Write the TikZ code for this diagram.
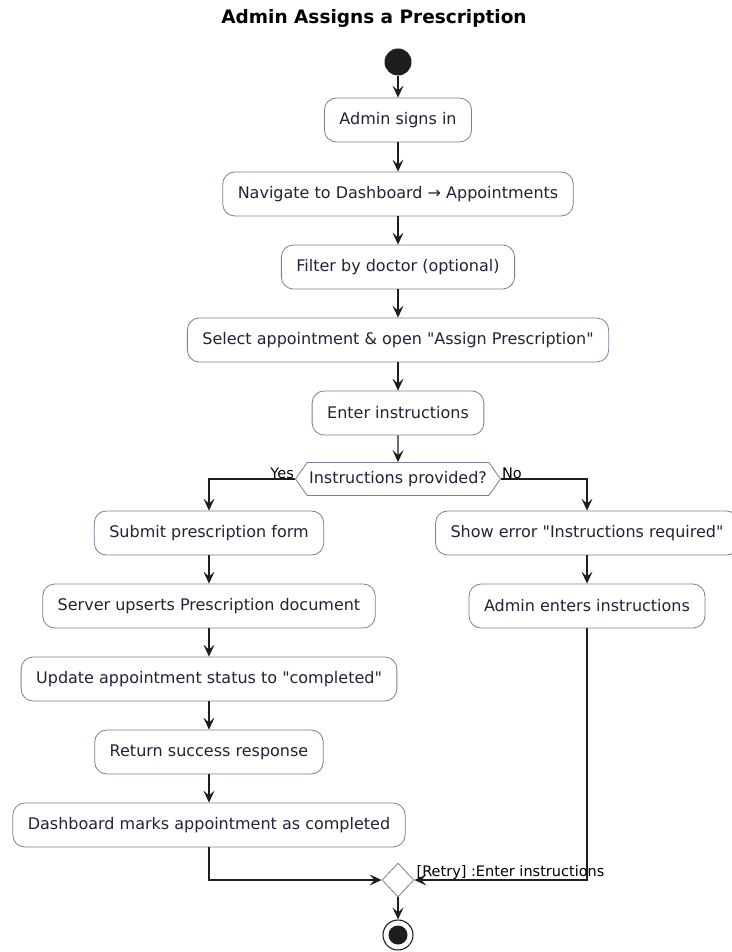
\documentclass[tikz,border=0pt]{standalone}
\usepackage{fontspec}
\setmainfont{DejaVu Sans}[Ligatures=TeXOff]
\usetikzlibrary{arrows.meta,shapes.geometric,shapes.symbols}
\definecolor{boxline}{RGB}{125,125,150}
\definecolor{boxtext}{RGB}{35,35,55}
\definecolor{flow}{RGB}{30,30,30}
\begin{document}
\begin{tikzpicture}[x=1pt,y=-1pt,
  act/.style={draw=boxline,fill=white,rounded corners=12pt,minimum height=44pt,
    inner xsep=15pt,font=\fontsize{16}{19}\selectfont,text=boxtext,line width=0.8pt},
  decide/.style={draw=boxline,fill=white,shape=signal,signal to=west and east,
    signal pointer angle=110,minimum height=33pt,minimum width=197pt,inner xsep=2pt,
    font=\fontsize{16}{19}\selectfont,text=boxtext,line width=0.8pt},
  merge/.style={draw=boxline,fill=white,diamond,minimum width=32pt,minimum height=34pt,
    inner sep=0pt,line width=0.8pt},
  flowline/.style={draw=flow,line width=1.1pt,-{Stealth[length=12pt,width=11pt,inset=5pt]}},
  lbl/.style={font=\fontsize{14.5}{17}\selectfont,text=black,inner sep=1pt}
]
\useasboundingbox (0,0) rectangle (731,952);

% title
\node[font=\bfseries\fontsize{18.5}{21}\selectfont] (title) at (374,18) {Admin Assigns a Prescription};

% start
\node[circle,fill=flow,minimum size=27pt,inner sep=0pt] (start) at (398,62) {};

% main column
\node[act] (signin) at (398,120) {Admin signs in};
\node[act] (nav) at (398,194) {Navigate to Dashboard → Appointments};
\node[act] (filter) at (398,267) {Filter by doctor (optional)};
\node[act] (select) at (398,340) {Select appointment \& open "Assign Prescription"};
\node[act] (enter) at (398,413) {Enter instructions};
\node[decide] (dec) at (398,479) {Instructions provided?};

% yes branch
\node[act] (submit) at (209,533) {Submit prescription form};
\node[act] (upsert) at (209,606) {Server upserts Prescription document};
\node[act] (status) at (209,679) {Update appointment status to "completed"};
\node[act] (resp) at (209,752) {Return success response};
\node[act] (marks) at (209,825) {Dashboard marks appointment as completed};

% no branch
\node[act] (err) at (587,533) {Show error "Instructions required"};
\node[act] (again) at (587,606) {Admin enters instructions};

% merge and end
\node[merge] (mrg) at (398,880) {};
\node[circle,draw=flow,line width=1.1pt,fill=white,minimum size=30pt,inner sep=0pt] (stop) at (398,935) {};
\node[circle,fill=flow,minimum size=19pt,inner sep=0pt] (stopdot) at (stop) {};

% connectors
\draw[flowline] (start) -- (signin);
\draw[flowline] (signin) -- (nav);
\draw[flowline] (nav) -- (filter);
\draw[flowline] (filter) -- (select);
\draw[flowline] (select) -- (enter);
\draw[flowline] (enter) -- (dec);
\draw[flowline] (dec.west) -| (submit.north);
\draw[flowline] (dec.east) -| (err.north);
\draw[flowline] (submit) -- (upsert);
\draw[flowline] (upsert) -- (status);
\draw[flowline] (status) -- (resp);
\draw[flowline] (resp) -- (marks);
\draw[flowline] (err) -- (again);
\draw[flowline] (marks.south) |- (mrg.west);
\draw[flowline] (again.south) |- (mrg.east);
\draw[flowline] (mrg) -- (stop);

% branch labels
\node[lbl,anchor=south east] (yes) at ([yshift=-1pt]dec.west) {Yes};
\node[lbl,anchor=south west] (no) at ([yshift=-1pt]dec.east) {No};
\node[lbl,anchor=south west] (retry) at ([xshift=1pt,yshift=-1pt]mrg.east) {[Retry] :Enter instructions};
\end{tikzpicture}
\end{document}
